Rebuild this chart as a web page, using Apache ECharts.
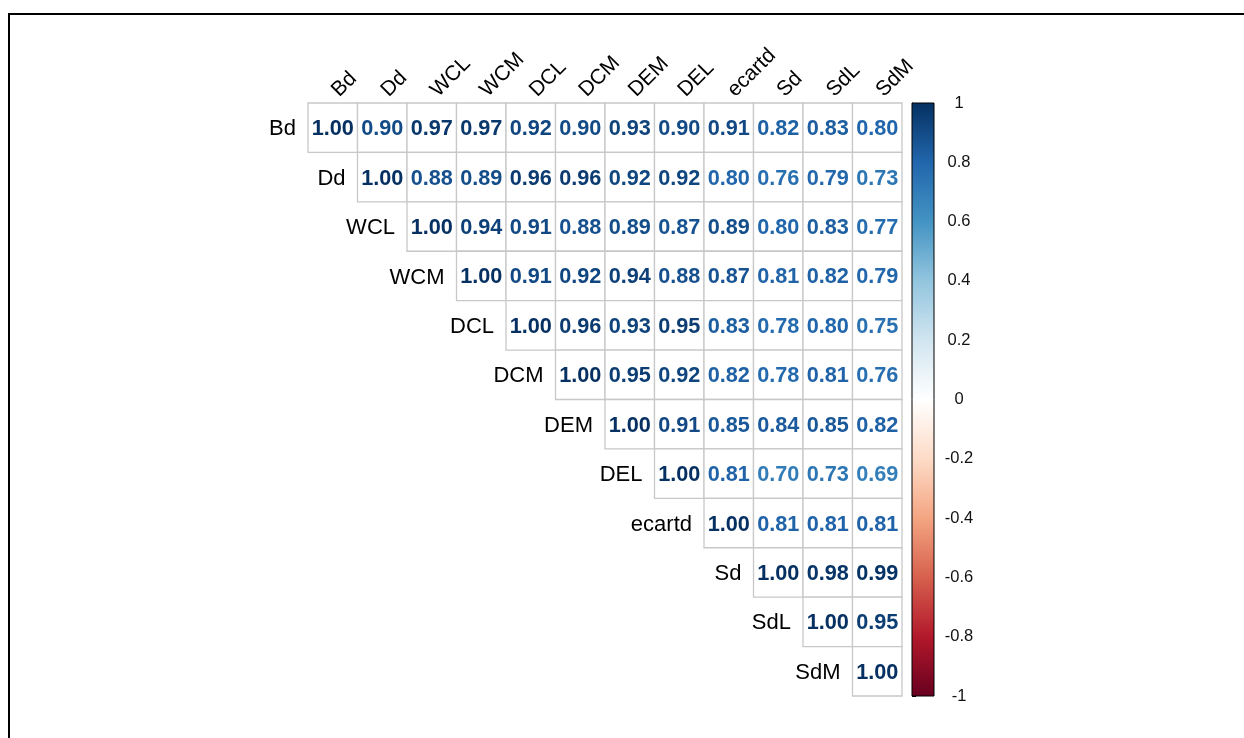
<!DOCTYPE html>
<html><head><meta charset="utf-8">
<script src="https://cdn.jsdelivr.net/npm/echarts@6/dist/echarts.min.js"></script>
<style>html,body{margin:0;padding:0;background:#fff}#c{width:1244px;height:738px}</style>
</head><body><div id="c"></div><script>
const variables = ["Bd","Dd","WCL","WCM","DCL","DCM","DEM","DEL","ecartd","Sd","SdL","SdM"];
// upper-triangle rows (starting at the diagonal)
const rowBd     = [1.00,0.90,0.97,0.97,0.92,0.90,0.93,0.90,0.91,0.82,0.83,0.80];
const rowDd     = [1.00,0.88,0.89,0.96,0.96,0.92,0.92,0.80,0.76,0.79,0.73];
const rowWCL    = [1.00,0.94,0.91,0.88,0.89,0.87,0.89,0.80,0.83,0.77];
const rowWCM    = [1.00,0.91,0.92,0.94,0.88,0.87,0.81,0.82,0.79];
const rowDCL    = [1.00,0.96,0.93,0.95,0.83,0.78,0.80,0.75];
const rowDCM    = [1.00,0.95,0.92,0.82,0.78,0.81,0.76];
const rowDEM    = [1.00,0.91,0.85,0.84,0.85,0.82];
const rowDEL    = [1.00,0.81,0.70,0.73,0.69];
const rowEcartd = [1.00,0.81,0.81,0.81];
const rowSd     = [1.00,0.98,0.99];
const rowSdL    = [1.00,0.95];
const rowSdM    = [1.00];
const rows = [rowBd,rowDd,rowWCL,rowWCM,rowDCL,rowDCM,rowDEM,rowDEL,rowEcartd,rowSd,rowSdL,rowSdM];
const palette = ["#67001F","#B2182B","#D6604D","#F4A582","#FDDBC7","#FFFFFF","#D1E5F0","#92C5DE","#4393C3","#2166AC","#053061"];

const cells = [];
rows.forEach((r, i) => r.forEach((v, k) => cells.push([i + k, i, v])));
const diag = variables.map((n, i) => [i, i]);
const tops = variables.map((n, i) => [i, 0]);

const FONT = '"Liberation Sans", Arial, sans-serif';
const chart = echarts.init(document.getElementById('c'), null, {renderer: 'canvas'});
const stops = palette.map((c, i) => ({offset: i / (palette.length - 1), color: c}));

chart.setOption({
  animation: false,
  backgroundColor: '#fff',
  graphic: [{
    type: 'polyline', shape: {points: [[9, 738], [9, 14], [1244, 14]]},
    style: {stroke: '#000', lineWidth: 2, fill: null}, z: 100
  }],
  grid: [
    {left: 308, top: 103, width: 594, height: 593},
    {left: 912, top: 103, width: 22, height: 593}
  ],
  xAxis: [
    {type: 'category', gridIndex: 0, data: variables, show: false},
    {type: 'value', gridIndex: 1, min: 0, max: 1, show: false}
  ],
  yAxis: [
    {type: 'category', gridIndex: 0, data: variables, inverse: true, show: false},
    {type: 'value', gridIndex: 1, min: -1, max: 1, interval: 0.2, position: 'right',
     axisLine: {show: true, lineStyle: {color: '#000', width: 1}}, splitLine: {show: false},
     axisTick: {show: true, inside: false, length: 4, lineStyle: {color: '#000', width: 1}},
     axisLabel: {show: true, margin: 25, align: 'center', fontSize: 16.5, color: '#111', fontFamily: FONT,
       padding: [4, 0, 0, 0],
       formatter: v => String(Math.round(v * 10) / 10)}}
  ],
  visualMap: {show: false, type: 'continuous', min: -1, max: 1, dimension: 2, seriesIndex: 0,
    inRange: {color: palette}},
  series: [
    {type: 'custom', xAxisIndex: 0, yAxisIndex: 0, data: cells,
     renderItem: (params, api) => {
       const c = api.coord([api.value(0), api.value(1)]);
       const s = api.size([1, 1]);
       return {type: 'group', children: [
         {type: 'rect', shape: {x: c[0] - s[0] / 2, y: c[1] - s[1] / 2, width: s[0], height: s[1]},
          style: {fill: '#fff', stroke: '#c8c8c8', lineWidth: 1.3}},
         {type: 'text', x: c[0], y: c[1] + 1.5,
          style: {text: api.value(2).toFixed(2), fill: api.visual('color'),
            fontSize: 21.7, fontWeight: 'bold', fontFamily: FONT, align: 'center', verticalAlign: 'middle'}}
       ]};
     }},
    {type: 'custom', xAxisIndex: 0, yAxisIndex: 0, data: diag, z: 3,
     renderItem: (params, api) => {
       const c = api.coord([api.value(0), api.value(1)]);
       const s = api.size([1, 1]);
       return {type: 'text', x: c[0] - s[0] / 2 - 12, y: c[1] + 1.5,
         style: {text: variables[params.dataIndex], fill: '#000', fontSize: 22,
           fontFamily: FONT, align: 'right', verticalAlign: 'middle'}};
     }},
    {type: 'custom', xAxisIndex: 0, yAxisIndex: 0, data: tops, z: 3,
     renderItem: (params, api) => {
       const c = api.coord([api.value(0), api.value(1)]);
       const s = api.size([1, 1]);
       return {type: 'text', x: c[0] + 2.5, y: c[1] - s[1] / 2 - 9.5, rotation: Math.PI / 4,
         style: {text: variables[params.dataIndex], fill: '#000', fontSize: 21,
           fontFamily: FONT, align: 'left', verticalAlign: 'middle'}};
     }},
    {type: 'custom', xAxisIndex: 1, yAxisIndex: 1, data: [[0, 0]],
     renderItem: (params) => {
       const cs = params.coordSys;
       return {type: 'rect', shape: {x: cs.x, y: cs.y, width: cs.width, height: cs.height},
         style: {fill: new echarts.graphic.LinearGradient(0, 1, 0, 0, stops), stroke: '#000', lineWidth: 1}};
     }}
  ]
});
</script></body></html>
